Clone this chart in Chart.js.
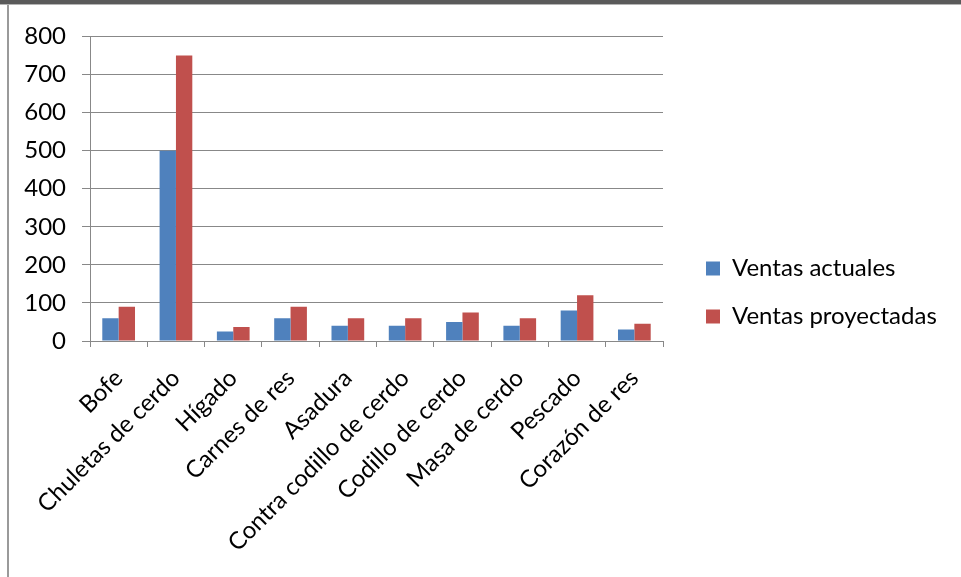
<!DOCTYPE html>
<html>
<head>
<meta charset="utf-8">
<script src="https://cdn.jsdelivr.net/npm/chart.js@4"></script>
<style>
    body { margin: 0; background: #fff; }
    .frame {
        position: absolute; left: 0; top: 0; width: 961px; height: 577px;
        border-top: 4px solid #5a5a5a;
        box-sizing: border-box;
    }
    .frame::before {
        content: ""; position: absolute; left: 0; right: 0; top: 0; height: 1px; background: #b4b4b4;
    }
    .frame::after {
        content: ""; position: absolute; left: 7px; top: 1px; bottom: 0; width: 2px; background: #9a9a9a;
    }
    .wrap { position: absolute; left: 9px; top: 6px; width: 952px; height: 571px; }
</style>
</head>
<body>
<div class="frame"></div>
<div class="wrap"><canvas id="chart"></canvas></div>
<script>
const categories = ["Bofe", "Chuletas de cerdo", "Hígado", "Carnes de res", "Asadura",
    "Contra codillo de cerdo", "Codillo de cerdo", "Masa de cerdo", "Pescado", "Corazón de res"];
const ventasActuales = [60, 500, 25, 60, 40, 40, 50, 40, 80, 30];
const ventasProyectadas = [90, 750, 37, 90, 60, 60, 75, 60, 120, 45];
const yTicks = [0, 100, 200, 300, 400, 500, 600, 700, 800];

const fontFamily = "Lato, 'Liberation Sans', sans-serif";
const gridColor = "#888888";

// legend sits a bit further from the plot than labels.padding would allow
const legendPlace = {
    id: "legendPlace",
    beforeInit(chart) {
        const legend = chart.legend;
        const fit = legend.fit;
        legend.fit = function () {
            fit.call(this);
            this.width = 298;
        };
        const draw = legend.draw;
        legend.draw = function () {
            const c = this.ctx;
            c.save();
            c.translate(19, -12);
            draw.call(this);
            c.restore();
        };
    }
};

const ctx = document.getElementById("chart").getContext("2d");
const chart = new Chart(ctx, {
    type: "bar",
    data: {
        labels: categories,
        datasets: [
            { label: "Ventas actuales", data: ventasActuales, backgroundColor: "#4F81BD" },
            { label: "Ventas proyectadas", data: ventasProyectadas, backgroundColor: "#C0504D" }
        ]
    },
    options: {
        responsive: true,
        maintainAspectRatio: false,
        animation: false,
        datasets: { bar: { categoryPercentage: 0.571, barPercentage: 1 } },
        layout: { padding: { left: 0, top: 26, right: 0, bottom: 0 } },
        plugins: {
            legend: {
                position: "right",
                labels: {
                    color: "#000",
                    font: { family: fontFamily, size: 24 },
                    boxWidth: 14,
                    boxHeight: 14,
                    padding: 24
                }
            },
            tooltip: { enabled: false }
        },
        scales: {
            y: {
                min: 0,
                max: 800,
                afterBuildTicks: (axis) => { axis.ticks = yTicks.map(v => ({ value: v })); },
                afterFit: (scale) => { scale.width = 81; },
                ticks: { color: "#000", font: { family: fontFamily, size: 24 }, padding: 16 },
                grid: { color: gridColor, tickLength: 8, lineWidth: 1 },
                border: { color: gridColor }
            },
            x: {
                afterFit: (scale) => { scale.height = 236; },
                ticks: {
                    color: "#000",
                    font: { family: fontFamily, size: 24 },
                    minRotation: 45,
                    maxRotation: 45,
                    autoSkip: false,
                    padding: 17
                },
                grid: { color: gridColor, drawOnChartArea: false, tickLength: 6 },
                border: { color: gridColor }
            }
        }
    },
    plugins: [legendPlace]
});
</script>
</body>
</html>
